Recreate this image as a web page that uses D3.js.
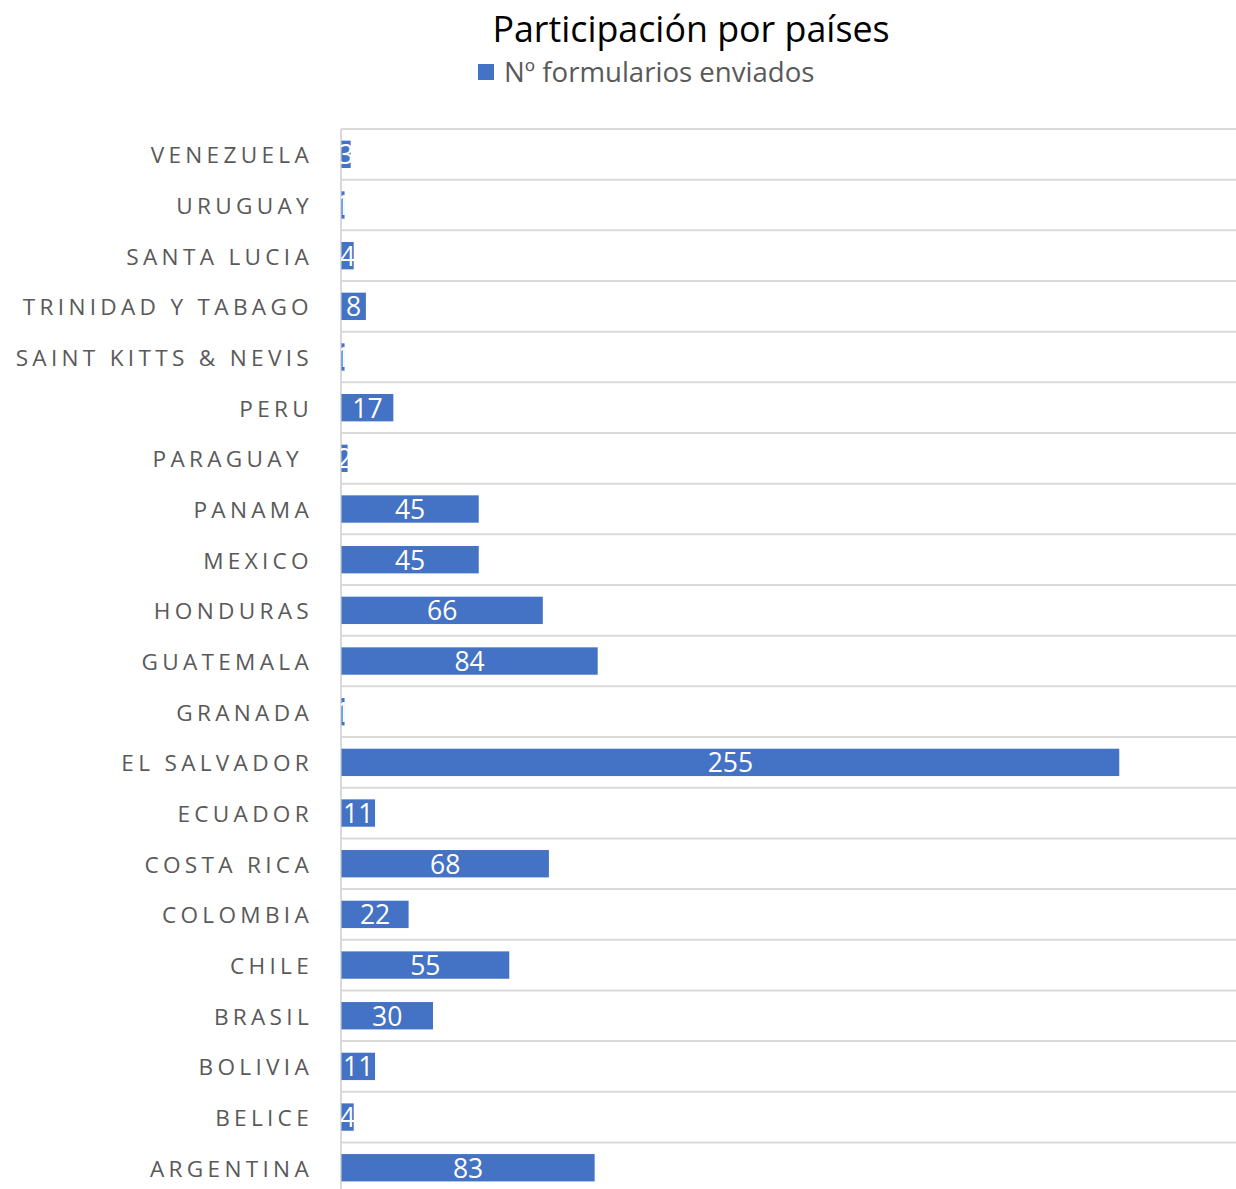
<!DOCTYPE html>
<html>
<head>
<meta charset="utf-8">
<script src="https://cdn.jsdelivr.net/npm/d3@7"></script>
<style>
  body { margin: 0; background: #fff; }
  svg { display: block; }
</style>
</head>
<body>
<script>
const width = 1236,
  height = 1189;

const countries = ['VENEZUELA', 'URUGUAY', 'SANTA LUCIA', 'TRINIDAD Y TABAGO', 'SAINT KITTS & NEVIS',
  'PERU', 'PARAGUAY ', 'PANAMA', 'MEXICO', 'HONDURAS', 'GUATEMALA', 'GRANADA', 'EL SALVADOR',
  'ECUADOR', 'COSTA RICA', 'COLOMBIA', 'CHILE', 'BRASIL', 'BOLIVIA', 'BELICE', 'ARGENTINA'];
const forms = [3, 1, 4, 8, 1, 17, 2, 45, 45, 66, 84, 1, 255, 11, 68, 22, 55, 30, 11, 4, 83];
const seriesName = 'Nº formularios enviados';
const title = 'Participación por países';

const data = countries.map((c, i) => ({ country: c, value: forms[i] }));

const margin = { top: 129, left: 341 };

const x = d3.scaleLinear()
  .domain([0, 300])
  .range([margin.left, margin.left + 915]);

const y = d3.scaleBand()
  .domain(countries)
  .range([margin.top, margin.top + 21 * 50.67])
  .paddingInner(0.46)
  .paddingOuter(0.23);

const svg = d3.select('body').append('svg')
  .attr('width', width)
  .attr('height', height);

// title + legend
svg.append('text')
  .attr('x', 691)
  .attr('y', 42)
  .attr('text-anchor', 'middle')
  .attr('font-family', 'Open Sans, sans-serif')
  .attr('font-size', 35.8)
  .attr('fill', '#000')
  .text(title);

svg.append('rect')
  .attr('x', 478)
  .attr('y', 64)
  .attr('width', 16)
  .attr('height', 16)
  .attr('fill', '#4472C4');

svg.append('text')
  .attr('x', 504)
  .attr('y', 82)
  .attr('font-family', 'Open Sans, sans-serif')
  .attr('font-size', 27.6)
  .attr('fill', '#595959')
  .text(seriesName);

// horizontal gridlines at band boundaries
const step = y.step();
svg.append('g')
  .selectAll('line')
  .data(d3.range(countries.length + 1))
  .enter().append('line')
  .attr('x1', margin.left)
  .attr('x2', width)
  .attr('y1', i => margin.top + i * step)
  .attr('y2', i => margin.top + i * step)
  .attr('stroke', '#d9d9d9')
  .attr('stroke-width', 2);

// category axis
const yAxis = svg.append('g')
  .attr('transform', `translate(${margin.left},0)`)
  .call(d3.axisLeft(y).tickSize(0).tickPadding(28));

yAxis.select('.domain')
  .attr('stroke', '#d9d9d9')
  .attr('stroke-width', 2)
  .attr('d', `M0,${margin.top}V${height}`);

yAxis.selectAll('text')
  .attr('font-family', 'Open Sans, sans-serif')
  .attr('font-size', 22.6)
  .attr('fill', '#595959')
  .attr('letter-spacing', 4.3)
  .attr('dy', '0.4em')
  .style('white-space', 'pre');

// bars
const defs = svg.append('defs');
defs.selectAll('clipPath')
  .data(data)
  .enter().append('clipPath')
  .attr('id', (d, i) => 'clip' + i)
  .append('rect')
  .attr('x', x(0))
  .attr('y', d => y(d.country))
  .attr('width', d => x(d.value) - x(0) + 1)
  .attr('height', y.bandwidth());

svg.append('g')
  .selectAll('rect')
  .data(data)
  .enter().append('rect')
  .attr('x', x(0) + 0.5)
  .attr('y', d => y(d.country))
  .attr('width', d => x(d.value) - x(0))
  .attr('height', y.bandwidth())
  .attr('fill', '#4472C4');

// value labels, clipped to each bar like the original
svg.append('g')
  .selectAll('text')
  .data(data)
  .enter().append('text')
  .attr('clip-path', (d, i) => `url(#clip${i})`)
  .attr('x', d => (x(0) + x(d.value)) / 2 + 0.5)
  .attr('y', d => y(d.country) + y.bandwidth() / 2)
  .attr('dy', '0.38em')
  .attr('text-anchor', 'middle')
  .attr('font-family', 'Open Sans, sans-serif')
  .attr('font-size', 26.5)
  .attr('fill', '#fff')
  .text(d => d.value);
</script>
</body>
</html>
